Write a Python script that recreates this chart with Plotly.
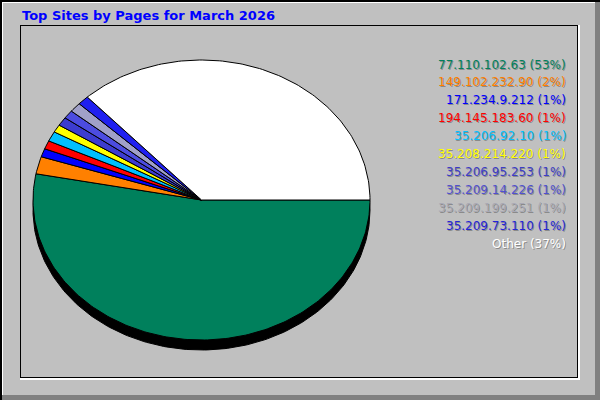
import numpy as np
import plotly.graph_objects as go

# ---- data ----
sites = ["77.110.102.63", "149.102.232.90", "171.234.9.212", "194.145.183.60",
         "35.206.92.10", "35.208.214.220", "35.206.95.253", "35.209.14.226",
         "35.209.199.251", "35.209.73.110", "Other"]
percents = [53.0, 2.0, 0.96, 0.97, 1.15, 0.9, 1.0, 0.97, 1.12, 1.08, 36.85]
slice_colors = ["#00805c", "#ff8000", "#0000ff", "#ff0000", "#00c0ff", "#ffff00",
                "#3c3cd0", "#4c4ce0", "#a0a0c8", "#2020f0", "#ffffff"]
text_colors = ["#00805c", "#ff8000", "#0000ff", "#ff0000", "#00c0ff", "#ffff00",
               "#3c3cc8", "#5050d0", "#a8a8b4", "#2424d8", "#ffffff"]
title = "Top Sites by Pages for March 2026"

# ---- geometry (style) ----
W, H = 600, 400
cx, cy, rx, ry = 201.5, 200.0, 168.5, 140.0
shadow = 10

fig = go.Figure()

# shadow ellipse
t = np.linspace(0, 2 * np.pi, 361)
fig.add_trace(go.Scatter(x=cx + rx * np.cos(t), y=cy + shadow + ry * np.sin(t),
                         mode="lines", fill="toself", fillcolor="#000000",
                         line=dict(color="#000000", width=1), hoverinfo="skip"))

total = sum(percents)
start = 0.0
for name, p, col in zip(sites, percents, slice_colors):
    a0 = start / total * 2 * np.pi
    a1 = (start + p) / total * 2 * np.pi
    n = max(2, int(np.ceil((a1 - a0) / (np.pi / 180))) + 1)
    aa = np.linspace(a0, a1, n)
    xs = np.concatenate([[cx], cx + rx * np.cos(aa), [cx]])
    ys = np.concatenate([[cy], cy + ry * np.sin(aa), [cy]])
    fig.add_trace(go.Scatter(x=xs, y=ys, mode="lines", fill="toself",
                             fillcolor=col, line=dict(color="#000000", width=1),
                             name=name, hoverinfo="skip"))
    start += p

# legend texts
annotations = []
for i, (name, p, col) in enumerate(zip(sites, percents, text_colors)):
    annotations.append(dict(
        x=568, y=64.5 + i * 17.9, xref="x", yref="y",
        text=f"{name} ({round(p / total * 100)}%)", showarrow=False,
        xanchor="right", yanchor="middle",
        font=dict(family="DejaVu Sans", size=12, color=col,
                  shadow="1px 1px 0px rgba(0,0,0,0.3)")))
annotations.append(dict(
    x=20, y=15, xref="x", yref="y", text=f"<b>{title}</b>", showarrow=False,
    xanchor="left", yanchor="middle",
    font=dict(family="DejaVu Sans", size=13, color="#0000ff")))

def rect(x0, y0, x1, y1, color):
    return dict(type="rect", xref="x", yref="y", x0=x0, y0=y0, x1=x1, y1=y1,
                fillcolor=color, line=dict(width=0), layer="below")

shapes = [
    # outer bevel
    rect(0, 0, 600, 2, "#000000"), rect(0, 0, 2, 400, "#000000"),
    rect(2, 2, 595, 3, "#ffffff"), rect(2, 2, 3, 395, "#ffffff"),
    rect(595, 2, 600, 400, "#808080"), rect(2, 395, 600, 400, "#808080"),
    # inner panel
    rect(20, 25, 578, 26, "#000000"), rect(20, 25, 21, 378, "#000000"),
    rect(577, 25, 578, 378, "#000000"), rect(20, 377, 578, 378, "#000000"),
    rect(578, 25, 580, 380, "#ffffff"), rect(20, 378, 580, 380, "#ffffff"),
]

fig.update_layout(
    width=W, height=H, autosize=False,
    margin=dict(l=0, r=0, t=0, b=0, pad=0),
    paper_bgcolor="#c0c0c0", plot_bgcolor="rgba(0,0,0,0)",
    showlegend=False,
    xaxis=dict(range=[0, W], visible=False, fixedrange=True),
    yaxis=dict(range=[H, 0], visible=False, fixedrange=True),
    annotations=annotations, shapes=shapes,
)

fig.write_html("out.html", config={"displayModeBar": False},
               post_script="document.body.style.margin='0';document.body.style.padding='0';")
